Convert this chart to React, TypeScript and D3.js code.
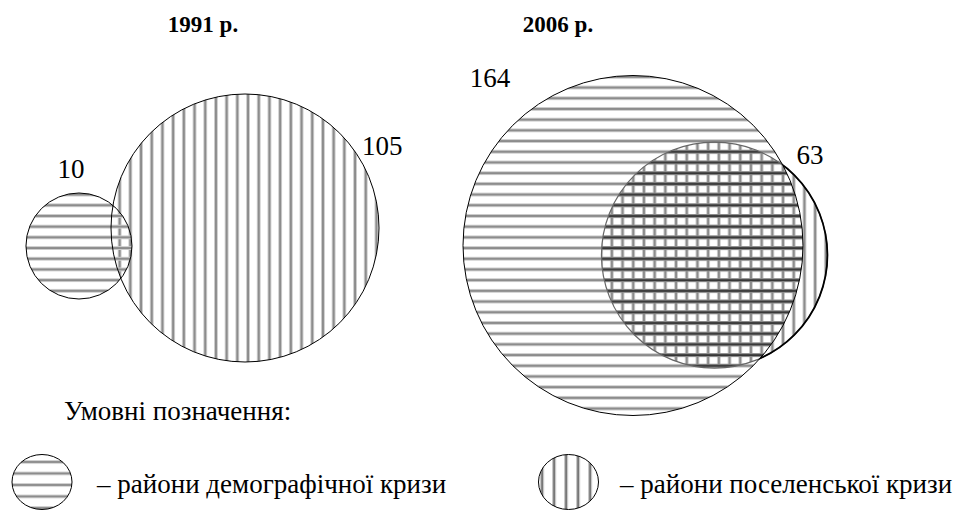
import React, { useEffect, useRef } from "react";
import * as d3 from "d3";

const width = 954;
const height = 511;

// data
const years = ["1991 р.", "2006 р."];
const demographic = [10, 164]; // райони демографічної кризи
const settlement = [105, 63]; // райони поселенської кризи
const legendTitle = "Умовні позначення:";
const legendLabels = ["– райони демографічної кризи", "– райони поселенської кризи"];

const font = "Times New Roman, serif";

// radius for number of districts (circles in the source are not strictly proportional)
const rScale = d3.scaleLinear().domain([10, 63, 105, 164]).range([53, 113, 134, 170]);

function stripePattern(defs: any, id: string, dir: "h" | "v", step: number, dark: string, light: string, lw: number) {
  const p = defs.append("pattern")
    .attr("id", id)
    .attr("patternUnits", "userSpaceOnUse")
    .attr("width", dir === "v" ? step : 10)
    .attr("height", dir === "h" ? step : 10);
  const band = lw + 2.4;
  if (dir === "v") {
    p.append("rect").attr("x", 0).attr("y", 0).attr("width", band).attr("height", 10).attr("fill", light);
    p.append("rect").attr("x", 1.2).attr("y", 0).attr("width", lw).attr("height", 10).attr("fill", dark);
  } else {
    p.append("rect").attr("x", 0).attr("y", 0).attr("width", 10).attr("height", band).attr("fill", light);
    p.append("rect").attr("x", 0).attr("y", 1.2).attr("width", 10).attr("height", lw).attr("fill", dark);
  }
}

export default function App() {
  const ref = useRef<SVGSVGElement>(null);

  useEffect(() => {
    const svg = d3.select(ref.current);
    svg.selectAll("*").remove();
    const defs = svg.append("defs");

    stripePattern(defs, "hStripe", "h", 10.7, "#7a7a7a", "#cdcdcd", 1.5);
    stripePattern(defs, "vStripe", "v", 10.7, "#7a7a7a", "#cdcdcd", 1.5);
    stripePattern(defs, "hDark", "h", 10.7, "#2a2a2a", "#8c8c8c", 1.6);
    stripePattern(defs, "hLegend", "h", 11.5, "#7a7a7a", "#d2d2d2", 1.5);
    stripePattern(defs, "vLegend", "v", 12, "#777", "#c8c8c8", 1.8);

    const root = svg.append("g").attr("fill", "#000");

    // ---------- 1991 ----------
    const r105 = rScale(settlement[0]);
    const r10 = rScale(demographic[0]);
    const big1 = { x: 245, y: 228 };
    const ang1 = Math.atan2(18, -166);
    const d1 = r105 + r10 - 20;
    const small1 = { x: big1.x + d1 * Math.cos(ang1), y: big1.y + d1 * Math.sin(ang1) };

    const g1 = root.append("g");
    g1.append("circle").attr("cx", big1.x).attr("cy", big1.y).attr("r", r105)
      .attr("fill", "url(#vStripe)");
    g1.append("circle").attr("cx", small1.x).attr("cy", small1.y).attr("r", r10)
      .attr("fill", "url(#hStripe)");
    g1.append("circle").attr("cx", big1.x).attr("cy", big1.y).attr("r", r105)
      .attr("fill", "none").attr("stroke", "#000").attr("stroke-width", 1);
    g1.append("circle").attr("cx", small1.x).attr("cy", small1.y).attr("r", r10)
      .attr("fill", "none").attr("stroke", "#000").attr("stroke-width", 1);

    g1.append("text").attr("x", small1.x - 8).attr("y", small1.y - r10 - 15)
      .attr("text-anchor", "middle").text(demographic[0]);
    g1.append("text").attr("x", big1.x + 117).attr("y", big1.y - 73)
      .attr("text-anchor", "start").text(settlement[0]);
    g1.append("text").attr("x", 203).attr("y", 32).attr("text-anchor", "middle")
      .attr("font-weight", "bold").attr("font-size", 23).text(years[0]);

    // ---------- 2006 ----------
    const r164 = rScale(demographic[1]);
    const r63 = rScale(settlement[1]);
    const big2 = { x: 633, y: 245.5 };
    const ang2 = Math.atan2(9.5, 81);
    const d2 = r164 - r63 + 25;
    const small2 = { x: big2.x + d2 * Math.cos(ang2), y: big2.y + d2 * Math.sin(ang2) };

    defs.append("clipPath").attr("id", "clipBig2")
      .append("circle").attr("cx", big2.x).attr("cy", big2.y).attr("r", r164);
    const mask = defs.append("mask").attr("id", "outBig2")
      .attr("maskUnits", "userSpaceOnUse").attr("x", 0).attr("y", 0)
      .attr("width", width).attr("height", height);
    mask.append("rect").attr("width", width).attr("height", height).attr("fill", "#fff");
    mask.append("circle").attr("cx", big2.x).attr("cy", big2.y).attr("r", r164).attr("fill", "#000");

    const g2 = root.append("g");
    g2.append("circle").attr("cx", big2.x).attr("cy", big2.y).attr("r", r164)
      .attr("fill", "url(#hStripe)");
    g2.append("circle").attr("cx", small2.x).attr("cy", small2.y).attr("r", r63)
      .attr("fill", "url(#vStripe)");
    g2.append("circle").attr("cx", small2.x).attr("cy", small2.y).attr("r", r63)
      .attr("fill", "url(#hDark)").attr("clip-path", "url(#clipBig2)");
    g2.append("circle").attr("cx", small2.x).attr("cy", small2.y).attr("r", r63)
      .attr("fill", "none").attr("stroke", "#666").attr("stroke-width", 1.2);
    g2.append("circle").attr("cx", small2.x).attr("cy", small2.y).attr("r", r63)
      .attr("fill", "none").attr("stroke", "#000").attr("stroke-width", 1.8)
      .attr("mask", "url(#outBig2)");
    g2.append("circle").attr("cx", big2.x).attr("cy", big2.y).attr("r", r164)
      .attr("fill", "none").attr("stroke", "#000").attr("stroke-width", 1);

    g2.append("text").attr("x", 490).attr("y", 87).attr("text-anchor", "middle").text(demographic[1]);
    g2.append("text").attr("x", 810).attr("y", 164).attr("text-anchor", "middle").text(settlement[1]);
    g2.append("text").attr("x", 558).attr("y", 32).attr("text-anchor", "middle")
      .attr("font-weight", "bold").attr("font-size", 23).text(years[1]);

    // ---------- legend ----------
    const lg = root.append("g");
    lg.append("text").attr("x", 64).attr("y", 420).text(legendTitle);
    const items = [
      { cx: 42, fill: "url(#hLegend)", tx: 97 },
      { cx: 568.5, fill: "url(#vLegend)", tx: 620 },
    ];
    items.forEach((it, i) => {
      lg.append("ellipse").attr("cx", it.cx).attr("cy", 482).attr("rx", 30).attr("ry", 27.5)
        .attr("fill", it.fill).attr("stroke", "#000").attr("stroke-width", 1);
      lg.append("text").attr("x", it.tx).attr("y", 493).text(legendLabels[i]);
    });

    root.selectAll("text").attr("font-family", font);
    root.selectAll("text").filter(function () { return !d3.select(this).attr("font-size"); })
      .attr("font-size", 27);
  }, []);

  return (
    <svg
      ref={ref}
      width={width}
      height={height}
      style={{ position: "absolute", left: 0, top: 0, background: "#fff" }}
    />
  );
}
